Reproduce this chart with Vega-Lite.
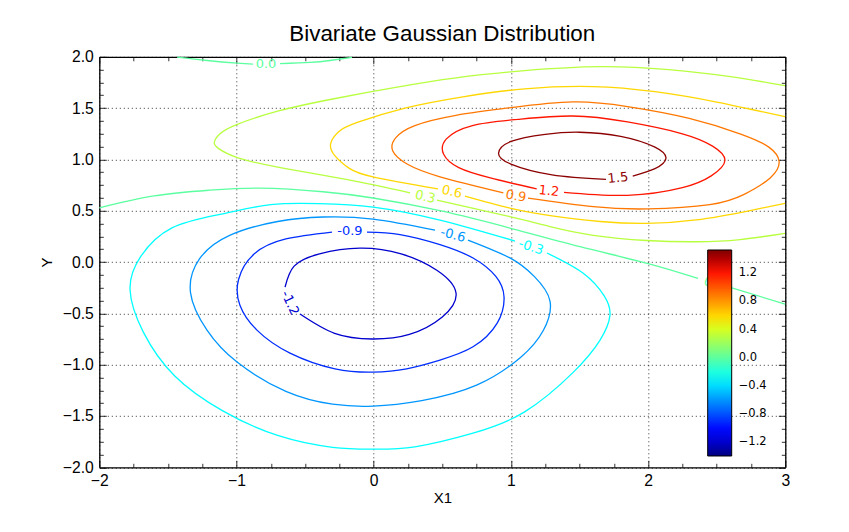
{"$schema":"https://vega.github.io/schema/vega-lite/v6.json","width":686,"height":410.5,"autosize":{"type":"none"},"padding":{"left":99.3,"top":56.8,"right":63,"bottom":64},"background":"white","view":{"stroke":null},
"title":{"text":"Bivariate Gaussian Distribution","font":"Liberation Sans","fontSize":22.4,"fontWeight":"normal","color":"black","anchor":"middle","offset":3},
"datasets":{
"contours":[
{"level":-1.2,"seg":"n12","i":0,"x":-0.646,"y":-0.244},{"level":-1.2,"seg":"n12","i":1,"x":-0.58,"y":-0.04},{"level":-1.2,"seg":"n12","i":2,"x":-0.395,"y":0.08},{"level":-1.2,"seg":"n12","i":3,"x":-0.1,"y":0.136},{"level":-1.2,"seg":"n12","i":4,"x":0.2,"y":0.08},{"level":-1.2,"seg":"n12","i":5,"x":0.46,"y":-0.08},{"level":-1.2,"seg":"n12","i":6,"x":0.6,"y":-0.302},{"level":-1.2,"seg":"n12","i":7,"x":0.5,"y":-0.535},{"level":-1.2,"seg":"n12","i":8,"x":0.26,"y":-0.705},{"level":-1.2,"seg":"n12","i":9,"x":-0.01,"y":-0.75},{"level":-1.2,"seg":"n12","i":10,"x":-0.285,"y":-0.695},{"level":-1.2,"seg":"n12","i":11,"x":-0.537,"y":-0.507},
{"level":-0.9,"seg":"n09","i":0,"x":-0.049,"y":0.292},{"level":-0.9,"seg":"n09","i":1,"x":0.192,"y":0.268},{"level":-0.9,"seg":"n09","i":2,"x":0.483,"y":0.17},{"level":-0.9,"seg":"n09","i":3,"x":0.724,"y":0.039},{"level":-0.9,"seg":"n09","i":4,"x":0.89,"y":-0.14},{"level":-0.9,"seg":"n09","i":5,"x":0.95,"y":-0.34},{"level":-0.9,"seg":"n09","i":6,"x":0.9,"y":-0.595},{"level":-0.9,"seg":"n09","i":7,"x":0.724,"y":-0.826},{"level":-0.9,"seg":"n09","i":8,"x":0.483,"y":-0.955},{"level":-0.9,"seg":"n09","i":9,"x":0.24,"y":-1.04},{"level":-0.9,"seg":"n09","i":10,"x":-0.005,"y":-1.072},{"level":-0.9,"seg":"n09","i":11,"x":-0.282,"y":-1.04},{"level":-0.9,"seg":"n09","i":12,"x":-0.61,"y":-0.887},{"level":-0.9,"seg":"n09","i":13,"x":-0.851,"y":-0.663},{"level":-0.9,"seg":"n09","i":14,"x":-0.975,"y":-0.42},{"level":-0.9,"seg":"n09","i":15,"x":-0.985,"y":-0.17},{"level":-0.9,"seg":"n09","i":16,"x":-0.87,"y":0.08},{"level":-0.9,"seg":"n09","i":17,"x":-0.64,"y":0.225},{"level":-0.9,"seg":"n09","i":18,"x":-0.304,"y":0.292},
{"level":-0.6,"seg":"n06","i":0,"x":0.687,"y":0.214},{"level":-0.6,"seg":"n06","i":1,"x":0.993,"y":0.04},{"level":-0.6,"seg":"n06","i":2,"x":1.17,"y":-0.14},{"level":-0.6,"seg":"n06","i":3,"x":1.285,"y":-0.38},{"level":-0.6,"seg":"n06","i":4,"x":1.235,"y":-0.67},{"level":-0.6,"seg":"n06","i":5,"x":1.07,"y":-0.93},{"level":-0.6,"seg":"n06","i":6,"x":0.75,"y":-1.2},{"level":-0.6,"seg":"n06","i":7,"x":0.35,"y":-1.35},{"level":-0.6,"seg":"n06","i":8,"x":-0.005,"y":-1.404},{"level":-0.6,"seg":"n06","i":9,"x":-0.3,"y":-1.385},{"level":-0.6,"seg":"n06","i":10,"x":-0.64,"y":-1.26},{"level":-0.6,"seg":"n06","i":11,"x":-0.996,"y":-0.975},{"level":-0.6,"seg":"n06","i":12,"x":-1.215,"y":-0.663},{"level":-0.6,"seg":"n06","i":13,"x":-1.335,"y":-0.3},{"level":-0.6,"seg":"n06","i":14,"x":-1.27,"y":0.03},{"level":-0.6,"seg":"n06","i":15,"x":-1.05,"y":0.26},{"level":-0.6,"seg":"n06","i":16,"x":-0.7,"y":0.395},{"level":-0.6,"seg":"n06","i":17,"x":-0.37,"y":0.439},{"level":-0.6,"seg":"n06","i":18,"x":-0.005,"y":0.419},{"level":-0.6,"seg":"n06","i":19,"x":0.447,"y":0.312},
{"level":-0.3,"seg":"n03","i":0,"x":1.263,"y":0.088},{"level":-0.3,"seg":"n03","i":1,"x":1.525,"y":-0.107},{"level":-0.3,"seg":"n03","i":2,"x":1.68,"y":-0.33},{"level":-0.3,"seg":"n03","i":3,"x":1.722,"y":-0.52},{"level":-0.3,"seg":"n03","i":4,"x":1.65,"y":-0.76},{"level":-0.3,"seg":"n03","i":5,"x":1.45,"y":-1.08},{"level":-0.3,"seg":"n03","i":6,"x":1.1,"y":-1.46},{"level":-0.3,"seg":"n03","i":7,"x":0.724,"y":-1.667},{"level":-0.3,"seg":"n03","i":8,"x":0.3,"y":-1.8},{"level":-0.3,"seg":"n03","i":9,"x":-0.005,"y":-1.823},{"level":-0.3,"seg":"n03","i":10,"x":-0.3,"y":-1.805},{"level":-0.3,"seg":"n03","i":11,"x":-0.7,"y":-1.69},{"level":-0.3,"seg":"n03","i":12,"x":-1.1,"y":-1.45},{"level":-0.3,"seg":"n03","i":13,"x":-1.45,"y":-1.11},{"level":-0.3,"seg":"n03","i":14,"x":-1.68,"y":-0.68},{"level":-0.3,"seg":"n03","i":15,"x":-1.776,"y":-0.27},{"level":-0.3,"seg":"n03","i":16,"x":-1.7,"y":0.05},{"level":-0.3,"seg":"n03","i":17,"x":-1.47,"y":0.333},{"level":-0.3,"seg":"n03","i":18,"x":-1.1,"y":0.47},{"level":-0.3,"seg":"n03","i":19,"x":-0.75,"y":0.56},{"level":-0.3,"seg":"n03","i":20,"x":-0.4,"y":0.57},{"level":-0.3,"seg":"n03","i":21,"x":-0.005,"y":0.536},{"level":-0.3,"seg":"n03","i":22,"x":0.483,"y":0.409},{"level":-0.3,"seg":"n03","i":23,"x":1.03,"y":0.205},
{"level":0,"seg":"z1","i":0,"x":-2,"y":0.529},{"level":0,"seg":"z1","i":1,"x":-1.6,"y":0.645},{"level":0,"seg":"z1","i":2,"x":-1.2,"y":0.7},{"level":0,"seg":"z1","i":3,"x":-0.829,"y":0.72},{"level":0,"seg":"z1","i":4,"x":-0.37,"y":0.685},{"level":0,"seg":"z1","i":5,"x":-0.005,"y":0.624},{"level":0,"seg":"z1","i":6,"x":0.483,"y":0.5},{"level":0,"seg":"z1","i":7,"x":0.993,"y":0.331},{"level":0,"seg":"z1","i":8,"x":1.504,"y":0.15},{"level":0,"seg":"z1","i":9,"x":2,"y":-0.015},{"level":0,"seg":"z1","i":10,"x":2.364,"y":-0.16},
{"level":0,"seg":"z2","i":0,"x":2.58,"y":-0.24},{"level":0,"seg":"z2","i":1,"x":2.998,"y":-0.409},
{"level":0,"seg":"z3","i":0,"x":-1.433,"y":1.997},{"level":0,"seg":"z3","i":1,"x":-1.214,"y":1.964},{"level":0,"seg":"z3","i":2,"x":-0.996,"y":1.938},{"level":0,"seg":"z3","i":3,"x":-0.88,"y":1.928},
{"level":0,"seg":"z4","i":0,"x":-0.683,"y":1.933},{"level":0,"seg":"z4","i":1,"x":-0.464,"y":1.945},{"level":0,"seg":"z4","i":2,"x":-0.319,"y":1.964},{"level":0,"seg":"z4","i":3,"x":-0.158,"y":1.995},
{"level":0.3,"seg":"p03a","i":0,"x":0.265,"y":0.675},{"level":0.3,"seg":"p03a","i":1,"x":-0.2,"y":0.805},{"level":0.3,"seg":"p03a","i":2,"x":-0.7,"y":0.925},{"level":0.3,"seg":"p03a","i":3,"x":-0.999,"y":1.02},{"level":0.3,"seg":"p03a","i":4,"x":-1.13,"y":1.105},{"level":0.3,"seg":"p03a","i":5,"x":-1.162,"y":1.167},{"level":0.3,"seg":"p03a","i":6,"x":-1.12,"y":1.25},{"level":0.3,"seg":"p03a","i":7,"x":-0.999,"y":1.34},{"level":0.3,"seg":"p03a","i":8,"x":-0.7,"y":1.47},{"level":0.3,"seg":"p03a","i":9,"x":-0.318,"y":1.584},{"level":0.3,"seg":"p03a","i":10,"x":0.15,"y":1.7},{"level":0.3,"seg":"p03a","i":11,"x":0.6,"y":1.795},{"level":0.3,"seg":"p03a","i":12,"x":1.1,"y":1.865},{"level":0.3,"seg":"p03a","i":13,"x":1.649,"y":1.904},{"level":0.3,"seg":"p03a","i":14,"x":2.15,"y":1.875},{"level":0.3,"seg":"p03a","i":15,"x":2.6,"y":1.807},{"level":0.3,"seg":"p03a","i":16,"x":2.998,"y":1.718},
{"level":0.3,"seg":"p03b","i":0,"x":0.461,"y":0.604},{"level":0.3,"seg":"p03b","i":1,"x":0.993,"y":0.442},{"level":0.3,"seg":"p03b","i":2,"x":1.285,"y":0.345},{"level":0.3,"seg":"p03b","i":3,"x":1.6,"y":0.26},{"level":0.3,"seg":"p03b","i":4,"x":1.99,"y":0.21},{"level":0.3,"seg":"p03b","i":5,"x":2.354,"y":0.198},{"level":0.3,"seg":"p03b","i":6,"x":2.67,"y":0.219},{"level":0.3,"seg":"p03b","i":7,"x":2.998,"y":0.28},
{"level":0.6,"seg":"p06a","i":0,"x":0.469,"y":0.712},{"level":0.6,"seg":"p06a","i":1,"x":-0.005,"y":0.83},{"level":0.6,"seg":"p06a","i":2,"x":-0.18,"y":0.915},{"level":0.6,"seg":"p06a","i":3,"x":-0.285,"y":1.04},{"level":0.6,"seg":"p06a","i":4,"x":-0.313,"y":1.157},{"level":0.6,"seg":"p06a","i":5,"x":-0.255,"y":1.27},{"level":0.6,"seg":"p06a","i":6,"x":-0.12,"y":1.36},{"level":0.6,"seg":"p06a","i":7,"x":0.228,"y":1.5},{"level":0.6,"seg":"p06a","i":8,"x":0.65,"y":1.61},{"level":0.6,"seg":"p06a","i":9,"x":1.1,"y":1.688},{"level":0.6,"seg":"p06a","i":10,"x":1.6,"y":1.71},{"level":0.6,"seg":"p06a","i":11,"x":2.05,"y":1.66},{"level":0.6,"seg":"p06a","i":12,"x":2.5,"y":1.559},{"level":0.6,"seg":"p06a","i":13,"x":2.998,"y":1.416},
{"level":0.6,"seg":"p06b","i":0,"x":0.665,"y":0.643},{"level":0.6,"seg":"p06b","i":1,"x":0.993,"y":0.526},{"level":0.6,"seg":"p06b","i":2,"x":1.3,"y":0.45},{"level":0.6,"seg":"p06b","i":3,"x":1.65,"y":0.395},{"level":0.6,"seg":"p06b","i":4,"x":1.99,"y":0.377},{"level":0.6,"seg":"p06b","i":5,"x":2.35,"y":0.41},{"level":0.6,"seg":"p06b","i":6,"x":2.743,"y":0.502},{"level":0.6,"seg":"p06b","i":7,"x":2.998,"y":0.572},
{"level":0.9,"seg":"p09","i":0,"x":0.945,"y":0.675},{"level":0.9,"seg":"p09","i":1,"x":0.483,"y":0.831},{"level":0.9,"seg":"p09","i":2,"x":0.25,"y":0.95},{"level":0.9,"seg":"p09","i":3,"x":0.14,"y":1.08},{"level":0.9,"seg":"p09","i":4,"x":0.16,"y":1.21},{"level":0.9,"seg":"p09","i":5,"x":0.3,"y":1.33},{"level":0.9,"seg":"p09","i":6,"x":0.6,"y":1.43},{"level":0.9,"seg":"p09","i":7,"x":1.0,"y":1.505},{"level":0.9,"seg":"p09","i":8,"x":1.452,"y":1.56},{"level":0.9,"seg":"p09","i":9,"x":1.85,"y":1.515},{"level":0.9,"seg":"p09","i":10,"x":2.3,"y":1.4},{"level":0.9,"seg":"p09","i":11,"x":2.68,"y":1.245},{"level":0.9,"seg":"p09","i":12,"x":2.88,"y":1.12},{"level":0.9,"seg":"p09","i":13,"x":2.955,"y":0.98},{"level":0.9,"seg":"p09","i":14,"x":2.89,"y":0.82},{"level":0.9,"seg":"p09","i":15,"x":2.7,"y":0.66},{"level":0.9,"seg":"p09","i":16,"x":2.45,"y":0.56},{"level":0.9,"seg":"p09","i":17,"x":2.0,"y":0.518},{"level":0.9,"seg":"p09","i":18,"x":1.6,"y":0.54},{"level":0.9,"seg":"p09","i":19,"x":1.125,"y":0.624},
{"level":1.2,"seg":"p12","i":0,"x":1.188,"y":0.712},{"level":1.2,"seg":"p12","i":1,"x":0.85,"y":0.82},{"level":1.2,"seg":"p12","i":2,"x":0.62,"y":0.92},{"level":1.2,"seg":"p12","i":3,"x":0.51,"y":1.05},{"level":1.2,"seg":"p12","i":4,"x":0.53,"y":1.2},{"level":1.2,"seg":"p12","i":5,"x":0.72,"y":1.33},{"level":1.2,"seg":"p12","i":6,"x":1.05,"y":1.39},{"level":1.2,"seg":"p12","i":7,"x":1.45,"y":1.423},{"level":1.2,"seg":"p12","i":8,"x":1.85,"y":1.365},{"level":1.2,"seg":"p12","i":9,"x":2.25,"y":1.25},{"level":1.2,"seg":"p12","i":10,"x":2.47,"y":1.13},{"level":1.2,"seg":"p12","i":11,"x":2.56,"y":0.99},{"level":1.2,"seg":"p12","i":12,"x":2.46,"y":0.84},{"level":1.2,"seg":"p12","i":13,"x":2.25,"y":0.725},{"level":1.2,"seg":"p12","i":14,"x":1.85,"y":0.65},{"level":1.2,"seg":"p12","i":15,"x":1.387,"y":0.679},
{"level":1.5,"seg":"p15","i":0,"x":1.693,"y":0.806},{"level":1.5,"seg":"p15","i":1,"x":1.3,"y":0.85},{"level":1.5,"seg":"p15","i":2,"x":1.0,"y":0.955},{"level":1.5,"seg":"p15","i":3,"x":0.91,"y":1.06},{"level":1.5,"seg":"p15","i":4,"x":1.0,"y":1.175},{"level":1.5,"seg":"p15","i":5,"x":1.25,"y":1.245},{"level":1.5,"seg":"p15","i":6,"x":1.5,"y":1.265},{"level":1.5,"seg":"p15","i":7,"x":1.8,"y":1.225},{"level":1.5,"seg":"p15","i":8,"x":2.05,"y":1.12},{"level":1.5,"seg":"p15","i":9,"x":2.13,"y":1.01},{"level":1.5,"seg":"p15","i":10,"x":2.05,"y":0.91},{"level":1.5,"seg":"p15","i":11,"x":1.888,"y":0.838}
],
"labels":[
{"id":"a","level":0,"label":"0.0","x":-0.785,"y":1.933},
{"id":"b","level":0.3,"label":"0.3","x":0.375,"y":0.634},
{"id":"c","level":0.6,"label":"0.6","x":0.57,"y":0.684},
{"id":"d","level":0.9,"label":"0.9","x":1.037,"y":0.643},
{"id":"e","level":1.2,"label":"1.2","x":1.277,"y":0.692},
{"id":"f","level":1.5,"label":"1.5","x":1.78,"y":0.819},
{"id":"g","level":-0.9,"label":"-0.9","x":-0.173,"y":0.302},
{"id":"h","level":-0.6,"label":"-0.6","x":0.578,"y":0.263},
{"id":"i","level":-0.3,"label":"-0.3","x":1.147,"y":0.146},
{"id":"j","level":-1.2,"label":"-1.2","x":-0.61,"y":-0.4},
{"id":"k","level":0,"label":"0.0","x":2.48,"y":-0.214}
]},
"encoding":{
"x":{"field":"x","type":"quantitative","scale":{"domain":[-2,3],"nice":false,"zero":false},"axis":null},
"y":{"field":"y","type":"quantitative","scale":{"domain":[-2,2],"nice":false,"zero":false},"axis":null}
},
"layer":[
{"data":{"name":"contours"},"mark":{"type":"line","interpolate":"natural","strokeWidth":1.3},
"encoding":{"detail":{"field":"seg"},"order":{"field":"i"},
"stroke":{"field":"level","type":"quantitative","legend":null,"scale":{"domain":[-1.3981,-1.0757,-1.0318,-0.4018,-0.3725,-0.2993,0.4772,0.5065,0.5358,1.2097,1.2683,1.532],"range":["#00007f","#0000ff","#0000ff","#00dbff","#00e6f7","#00ffff","#eeff08","#f7f600","#ffec00","#ff1300","#e80000","#7f0000"],"interpolate":"rgb","clamp":true}},
"x":{"field":"x","type":"quantitative","title":"X1","scale":{"domain":[-2,3],"nice":false,"zero":false},
"axis":{"orient":"bottom","values":[-2,-1.75,-1.5,-1.25,-1,-0.75,-0.5,-0.25,0,0.25,0.5,0.75,1,1.25,1.5,1.75,2,2.25,2.5,2.75,3],"labelExpr":"datum.value % 1 === 0 ? replace(format(datum.value,'d'),'-','−') : ''","labelFont":"Liberation Sans","labelFontSize":15.7,"labelColor":"black","labelPadding":13,"labelOverlap":false,"labelFlush":false,"titleFont":"Liberation Sans","titleFontSize":15,"titleFontWeight":"normal","titleColor":"black","titlePadding":0,"domainColor":"black","domainWidth":1.3,"tickColor":"black","tickWidth":0.8,"tickSize":{"condition":{"test":"datum.value % 1 === 0","value":-7},"value":-4},"grid":true,"gridColor":"black","gridDash":[1,3],"gridWidth":0.8,"gridOpacity":{"condition":{"test":"datum.value % 1 === 0","value":1},"value":0}}},
"y":{"field":"y","type":"quantitative","title":"Y","scale":{"domain":[-2,2],"nice":false,"zero":false},
"axis":{"orient":"left","values":[-2,-1.875,-1.75,-1.625,-1.5,-1.375,-1.25,-1.125,-1,-0.875,-0.75,-0.625,-0.5,-0.375,-0.25,-0.125,0,0.125,0.25,0.375,0.5,0.625,0.75,0.875,1,1.125,1.25,1.375,1.5,1.625,1.75,1.875,2],"labelExpr":"datum.value % 0.5 === 0 ? replace(format(datum.value,'.1f'),'-','−') : ''","labelFont":"Liberation Sans","labelFontSize":15.7,"labelColor":"black","labelPadding":13,"labelOverlap":false,"labelFlush":false,"titleFont":"Liberation Sans","titleFontSize":15,"titleFontWeight":"normal","titleColor":"black","titlePadding":8,"domainColor":"black","domainWidth":1.3,"tickColor":"black","tickWidth":0.8,"tickSize":{"condition":{"test":"datum.value % 0.5 === 0","value":-7},"value":-4},"grid":true,"gridColor":"black","gridDash":[1,3],"gridWidth":0.8,"gridOpacity":{"condition":{"test":"datum.value % 0.5 === 0","value":1},"value":0}}}
}},
{"data":{"name":"labels"},"transform":[{"filter":"datum.id==='a'"}],"mark":{"type":"text","font":"DejaVu Sans","fontSize":13,"angle":0},
"encoding":{"text":{"field":"label"},
"fill":{"field":"level","type":"quantitative","scale":{"domain":[-1.398,-1.0757,-1.0318,-0.4018,-0.3725,-0.2993,0.4772,0.5065,0.5358,1.2097,1.2683,1.532],"range":["#00007f","#0000ff","#0000ff","#00dbff","#00e6f7","#00ffff","#eeff08","#f7f600","#ffec00","#ff1300","#e80000","#7f0000"],"interpolate":"rgb","clamp":true},
"legend":{"type":"gradient","orient":"none","legendX":608.4,"legendY":193.2,"direction":"vertical","title":null,"gradientLength":206,"gradientThickness":24,"gradientStrokeColor":"black","gradientStrokeWidth":1,"values":[-1.2,-0.8,-0.4,0,0.4,0.8,1.2],"labelFont":"DejaVu Sans","labelFontSize":11.5,"labelColor":"black","labelOffset":7,"labelOverlap":false,"labelExpr":"replace(format(datum.value,'.1f'),'-','−')"}},
"x":{"field":"x","type":"quantitative","scale":{"domain":[-2,3],"nice":false,"zero":false},
"axis":{"orient":"top","title":null,"labels":false,"values":[-2,-1.75,-1.5,-1.25,-1,-0.75,-0.5,-0.25,0,0.25,0.5,0.75,1,1.25,1.5,1.75,2,2.25,2.5,2.75,3],"domainColor":"black","domainWidth":1.3,"tickColor":"black","tickWidth":0.8,"tickSize":{"condition":{"test":"datum.value % 1 === 0","value":-7},"value":-4},"grid":false}},
"y":{"field":"y","type":"quantitative","scale":{"domain":[-2,2],"nice":false,"zero":false},
"axis":{"orient":"right","title":null,"labels":false,"values":[-2,-1.875,-1.75,-1.625,-1.5,-1.375,-1.25,-1.125,-1,-0.875,-0.75,-0.625,-0.5,-0.375,-0.25,-0.125,0,0.125,0.25,0.375,0.5,0.625,0.75,0.875,1,1.125,1.25,1.375,1.5,1.625,1.75,1.875,2],"domainColor":"black","domainWidth":1.3,"tickColor":"black","tickWidth":0.8,"tickSize":{"condition":{"test":"datum.value % 0.5 === 0","value":-7},"value":-4},"grid":false}}
}},
{"data":{"name":"labels"},"transform":[{"filter":"datum.id==='b'||datum.id==='c'"}],"mark":{"type":"text","font":"DejaVu Sans","fontSize":13,"angle":13},"encoding":{"text":{"field":"label"},"fill":{"field":"level","type":"quantitative"}}},
{"data":{"name":"labels"},"transform":[{"filter":"datum.id==='d'"}],"mark":{"type":"text","font":"DejaVu Sans","fontSize":13,"angle":10},"encoding":{"text":{"field":"label"},"fill":{"field":"level","type":"quantitative"}}},
{"data":{"name":"labels"},"transform":[{"filter":"datum.id==='e'"}],"mark":{"type":"text","font":"DejaVu Sans","fontSize":13,"angle":6},"encoding":{"text":{"field":"label"},"fill":{"field":"level","type":"quantitative"}}},
{"data":{"name":"labels"},"transform":[{"filter":"datum.id==='f'"}],"mark":{"type":"text","font":"DejaVu Sans","fontSize":13,"angle":-6},"encoding":{"text":{"field":"label"},"fill":{"field":"level","type":"quantitative"}}},
{"data":{"name":"labels"},"transform":[{"filter":"datum.id==='g'"}],"mark":{"type":"text","font":"DejaVu Sans","fontSize":13,"angle":0},"encoding":{"text":{"field":"label"},"fill":{"field":"level","type":"quantitative"}}},
{"data":{"name":"labels"},"transform":[{"filter":"datum.id==='h'"}],"mark":{"type":"text","font":"DejaVu Sans","fontSize":13,"angle":15},"encoding":{"text":{"field":"label"},"fill":{"field":"level","type":"quantitative"}}},
{"data":{"name":"labels"},"transform":[{"filter":"datum.id==='i'||datum.id==='k'"}],"mark":{"type":"text","font":"DejaVu Sans","fontSize":13,"angle":18},"encoding":{"text":{"field":"label"},"fill":{"field":"level","type":"quantitative"}}},
{"data":{"name":"labels"},"transform":[{"filter":"datum.id==='j'"}],"mark":{"type":"text","font":"DejaVu Sans","fontSize":13,"angle":65},"encoding":{"text":{"field":"label"},"fill":{"field":"level","type":"quantitative"}}}
],
"resolve":{"axis":{"x":"independent","y":"independent"}}
}
